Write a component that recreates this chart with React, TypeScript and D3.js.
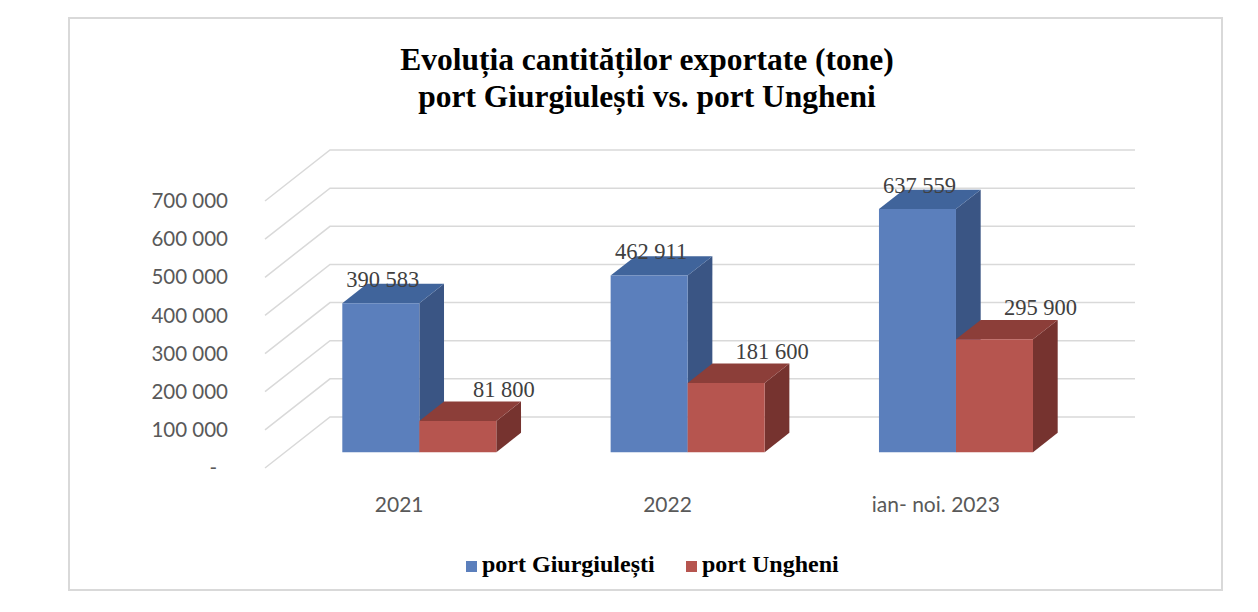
import { scaleBand, scaleLinear, formatLocale } from "d3";

const categories = ["2021", "2022", "ian- noi. 2023"];
const seriesNames = ["port Giurgiulești", "port Ungheni"];
const giurgiulestiValues = [390583, 462911, 637559];
const ungheniValues = [81800, 181600, 295900];
const yTicks = [0, 100000, 200000, 300000, 400000, 500000, 600000, 700000];
const yTickLabels = ["-", "100 000", "200 000", "300 000", "400 000", "500 000", "600 000", "700 000"];
const titleLines = ["Evoluția cantităților exportate (tone)", "port Giurgiulești vs. port Ungheni"];

const width = 1258;
const height = 612;

// 3d box: front floor corner, depth offset, wall size
const floorLeft = 265;
const floorFrontY = 468;
const depthDx = 65;
const depthDy = 51;
const wallWidth = 805;
const wallHeight = 267;
const z0 = 0.31;
const z1 = 0.69;

const seriesColors = [
  { front: "#5b7fbc", top: "#40649b", side: "#3a5584" },
  { front: "#b6554f", top: "#8c3e39", side: "#76332f" },
];

const fmt = formatLocale({ decimal: ",", thousands: " ", grouping: [3], currency: ["", ""] }).format(",d");

export default function App() {
  const yScale = scaleLinear().domain([0, 700000]).range([0, wallHeight]);
  const xGroup = scaleBand().domain(categories).range([0, wallWidth]).paddingInner(0.426).paddingOuter(0.213);
  const xSeries = scaleBand().domain(seriesNames).range([0, xGroup.bandwidth()]);

  const p = (x: number, v: number, z: number) => [floorLeft + x + z * depthDx, floorFrontY - yScale(v) - z * depthDy];
  const poly = (pts: number[][]) => pts.map((d) => d.join(",")).join(" ");

  const seriesValues = [giurgiulestiValues, ungheniValues];

  const bars: any[] = [];
  categories.forEach((c, ci) => {
    seriesNames.forEach((s, si) => {
      const v = seriesValues[si][ci];
      const x0 = (xGroup(c) ?? 0) + (xSeries(s) ?? 0);
      const x1 = x0 + xSeries.bandwidth();
      bars.push({ key: c + s, si, v, x0, x1 });
    });
  });

  return (
    <svg width={width} height={height} style={{ position: "absolute", left: 0, top: 0 }}>
      <rect x={0} y={0} width={width} height={height} fill="#ffffff" />
      <rect x={69} y={18} width={1153} height={572} fill="#ffffff" stroke="#d9d9d9" strokeWidth={2} />

      {titleLines.map((t, i) => (
        <text
          key={t}
          x={647}
          y={70 + i * 37}
          textAnchor="middle"
          fontFamily="'Liberation Serif', 'Times New Roman', serif"
          fontWeight="bold"
          fontSize={31.5}
          fill="#000000"
        >
          {t}
        </text>
      ))}

      {/* side wall diagonals + back wall lines */}
      {yTicks.map((t) => {
        const a = p(0, t, 0);
        const b = p(0, t, 1);
        const c = p(wallWidth, t, 1);
        return (
          <polyline
            key={t}
            points={poly([a, b, c])}
            fill="none"
            stroke="#d9d9d9"
            strokeWidth={1.5}
          />
        );
      })}

      {yTicks.map((t, i) => (
        <text
          key={t}
          x={t === 0 ? 217 : 228}
          y={p(0, t, 0)[1]}
          dy="0.35em"
          textAnchor="end"
          fontFamily="Lato, 'Open Sans', sans-serif"
          fontSize={20.5}
          fill="#595959"
        >
          {yTickLabels[i]}
        </text>
      ))}

      {bars.map((b) => {
        const col = seriesColors[b.si];
        const front = [p(b.x0, 0, z0), p(b.x1, 0, z0), p(b.x1, b.v, z0), p(b.x0, b.v, z0)];
        const top = [p(b.x0, b.v, z0), p(b.x1, b.v, z0), p(b.x1, b.v, z1), p(b.x0, b.v, z1)];
        const side = [p(b.x1, 0, z0), p(b.x1, 0, z1), p(b.x1, b.v, z1), p(b.x1, b.v, z0)];
        return (
          <g key={b.key}>
            <polygon points={poly(side)} fill={col.side} />
            <polygon points={poly(top)} fill={col.top} />
            <polygon points={poly(front)} fill={col.front} />
          </g>
        );
      })}

      {bars.map((b) => {
        const cx = (p(b.x0, b.v, z0)[0] + p(b.x1, b.v, z0)[0]) / 2;
        const topBack = p(b.x0, b.v, z1)[1];
        return (
          <text
            key={"l" + b.key}
            x={b.si === 0 ? cx + 2 : cx + 46}
            y={b.si === 0 ? topBack + 3 : topBack - 5}
            textAnchor="middle"
            fontFamily="'Liberation Serif', 'Times New Roman', serif"
            fontSize={22.5}
            fill="#404040"
          >
            {fmt(b.v)}
          </text>
        );
      })}

      {categories.map((c) => (
        <text
          key={c}
          x={p((xGroup(c) ?? 0) + xGroup.bandwidth() / 2, 0, 0)[0]}
          y={512}
          textAnchor="middle"
          fontFamily="Lato, 'Open Sans', sans-serif"
          fontSize={21}
          fill="#595959"
        >
          {c}
        </text>
      ))}

      {seriesNames.map((s, i) => {
        const lx = [466, 686][i];
        return (
          <g key={s}>
            <rect x={lx} y={561} width={11} height={11} fill={seriesColors[i].front} />
            <text
              x={lx + 16}
              y={572}
              fontFamily="'Liberation Serif', 'Times New Roman', serif"
              fontWeight="bold"
              fontSize={24}
              fill="#000000"
            >
              {s}
            </text>
          </g>
        );
      })}
    </svg>
  );
}
